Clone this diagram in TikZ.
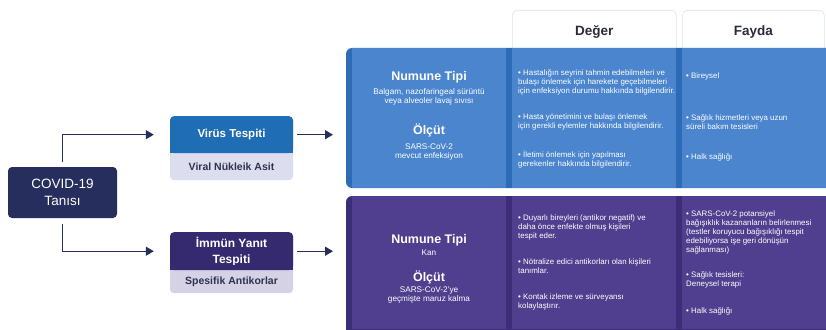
\documentclass[tikz,border=0pt]{standalone}
\usepackage{fontspec}
\setmainfont{Liberation Sans}
\usetikzlibrary{arrows.meta}
\definecolor{navy}{HTML}{262E5E}
\definecolor{vblue}{HTML}{1F6DB4}
\definecolor{ipurple}{HTML}{35296F}
\definecolor{lightv}{HTML}{DCDDEE}
\definecolor{lighti}{HTML}{D5D2E5}
\definecolor{pblue}{HTML}{4A85CD}
\definecolor{pbluedark}{HTML}{2C6CB6}
\definecolor{ppurp}{HTML}{4F3F8E}
\definecolor{ppurpdark}{HTML}{3C2D78}
\definecolor{hdrborder}{HTML}{E1E2E8}
\definecolor{subtext}{HTML}{2E334F}
\definecolor{hdrtext}{HTML}{2A2B3A}
\tikzset{
  conn/.style={draw=navy, line width=1.4pt, -{Triangle[length=8pt,width=9pt]}},
  basebox/.style={inner sep=0pt, rounded corners=4pt, text=white, align=center},
  lightbox/.style={inner sep=0pt, rounded corners=4pt, minimum width=123pt},
  topbox/.style={basebox, minimum width=123pt, font=\fontsize{11.5}{13}\selectfont\bfseries},
  subtxt/.style={text=subtext, font=\fontsize{10.5}{12}\selectfont\bfseries},
  hdr/.style={draw=hdrborder, fill=white, rounded corners=5pt, inner sep=0pt, line width=0.6pt,
    text=hdrtext, font=\fontsize{13.5}{15}\selectfont\bfseries},
  ttl/.style={text=white, font=\fontsize{12.5}{14}\selectfont\bfseries},
  ctxt/.style={text=white, align=center, inner sep=0pt, font=\fontsize{8.2}{9}\selectfont},
  btxt/.style={text=white, align=left, anchor=west, inner sep=0pt, font=\fontsize{7.9}{9}\selectfont},
  panel/.style={inner sep=0pt, anchor=north west, minimum width=480pt}
}
\begin{document}
\begin{tikzpicture}[x=1pt,y=-1pt]
\useasboundingbox (0,0) rectangle (826,329);
\fill[white] (0,0) rectangle (826,329);

% header boxes
\node[hdr, anchor=north west, minimum width=164pt, minimum height=44pt] (deger) at (512,10) {Değer};
\node[hdr, anchor=north west, minimum width=142pt, minimum height=44pt] (fayda) at (682,10) {Fayda};

% blue panel
\node[panel, minimum height=140pt] (bp) at (346,48) {};
\fill[pbluedark] (826,188) [rounded corners=6pt] -- (346,188) -- (346,48) [sharp corners] -- (826,48) -- cycle;
\fill[pblue] (352,48) rectangle (506,188);
\fill[pblue] (512,48) rectangle (676,188);
\fill[pblue] (682,48) rectangle (826,188);

% purple panel
\node[panel, minimum height=133pt] (pp) at (346,196) {};
\fill[ppurpdark] (826,335) [rounded corners=6pt] -- (346,335) -- (346,196) [sharp corners] -- (826,196) -- cycle;
\fill[ppurp] (352,196) rectangle (506,329);
\fill[ppurp] (512,196) rectangle (676,329);
\fill[ppurp] (682,196) rectangle (826,329);

% left diagram
\node[basebox, fill=navy, minimum width=109pt, minimum height=51pt,
  font=\fontsize{13.5}{17}\selectfont] (cov) at (62.5,192.5) {COVID-19\\Tanısı};

\node[lightbox, fill=lightv, minimum height=64pt, anchor=north] (virbox) at (231.5,116) {};
\node[topbox, fill=vblue, minimum height=37pt, anchor=north] (vir) at (231.5,116) {Virüs Tespiti};
\fill[vblue] ([yshift=5pt]vir.south west) rectangle (vir.south east);
\node[subtxt] (virsub) at (231.5,166.5) {Viral Nükleik Asit};

\node[lightbox, fill=lighti, minimum height=61pt, anchor=north] (immbox) at (231.5,232) {};
\node[topbox, fill=ipurple, minimum height=38pt, anchor=north, font=\fontsize{12}{16}\selectfont\bfseries] (imm) at (231.5,232) {İmmün Yanıt\\Tespiti};
\fill[ipurple] ([yshift=5pt]imm.south west) rectangle (imm.south east);
\node[subtxt] (immsub) at (231.5,281.5) {Spesifik Antikorlar};

\draw[conn, shorten <=5pt, shorten >=16pt] (cov.north) |- (vir.west);
\draw[conn, shorten <=6pt, shorten >=16pt] (cov.south) |- (imm.west);
\draw[conn, shorten <=4pt, shorten >=13pt] (vir.east) -- (vir.east -| bp.west);
\draw[conn, shorten <=4pt, shorten >=13pt] (imm.east) -- (imm.east -| pp.west);

% blue panel text
\node[ttl] (nt1) at (429,77) {Numune Tipi};
\node[ctxt] (nt1s) at (429,96.5) {Balgam, nazofaringeal sürüntü\\veya alveoler lavaj sıvısı};
\node[ttl] (ol1) at (429,130) {Ölçüt};
\node[ctxt] (ol1s) at (429,151.5) {SARS-CoV-2\\mevcut enfeksiyon};

\node[btxt] (d11) at (518,82) {• Hastalığın seyrini tahmin edebilmeleri ve\\bulaşı önlemek için harekete geçebilmeleri\\için enfeksiyon durumu hakkında bilgilendirir.};
\node[btxt] (d12) at (518,121.5) {• Hasta yönetimini ve bulaşı önlemek\\için gerekli eylemler hakkında bilgilendirir.};
\node[btxt] (d13) at (518,159.5) {• İletimi önlemek için yapılması\\gerekenler hakkında bilgilendirir.};

\node[btxt] (f11) at (686,76) {• Bireysel};
\node[btxt] (f12) at (686,122.5) {• Sağlık hizmetleri veya uzun\\süreli bakım tesisleri};
\node[btxt] (f13) at (686,157) {• Halk sağlığı};

% purple panel text
\node[ttl] (nt2) at (429,240) {Numune Tipi};
\node[ctxt] (nt2s) at (429,253) {Kan};
\node[ttl] (ol2) at (429,277) {Ölçüt};
\node[ctxt] (ol2s) at (429,295.5) {SARS-CoV-2’ye\\geçmişte maruz kalma};

\node[btxt] (d21) at (518,227) {• Duyarlı bireyleri (antikor negatif) ve\\daha önce enfekte olmuş kişileri\\tespit eder.};
\node[btxt] (d22) at (518,266.5) {• Nötralize edici antikorları olan kişileri\\tanımlar.};
\node[btxt] (d23) at (518,301.5) {• Kontak izleme ve sürveyansı\\kolaylaştırır.};

\node[btxt] (f21) at (686,232) {• SARS-CoV-2 potansiyel\\bağışıklık kazananların belirlenmesi\\(testler koruyucu bağışıklığı tespit\\edebiliyorsa işe geri dönüşün\\sağlanması)};
\node[btxt] (f22) at (686,279.5) {• Sağlık tesisleri:\\Deneysel terapi};
\node[btxt] (f23) at (686,311) {• Halk sağlığı};
\end{tikzpicture}
\end{document}
